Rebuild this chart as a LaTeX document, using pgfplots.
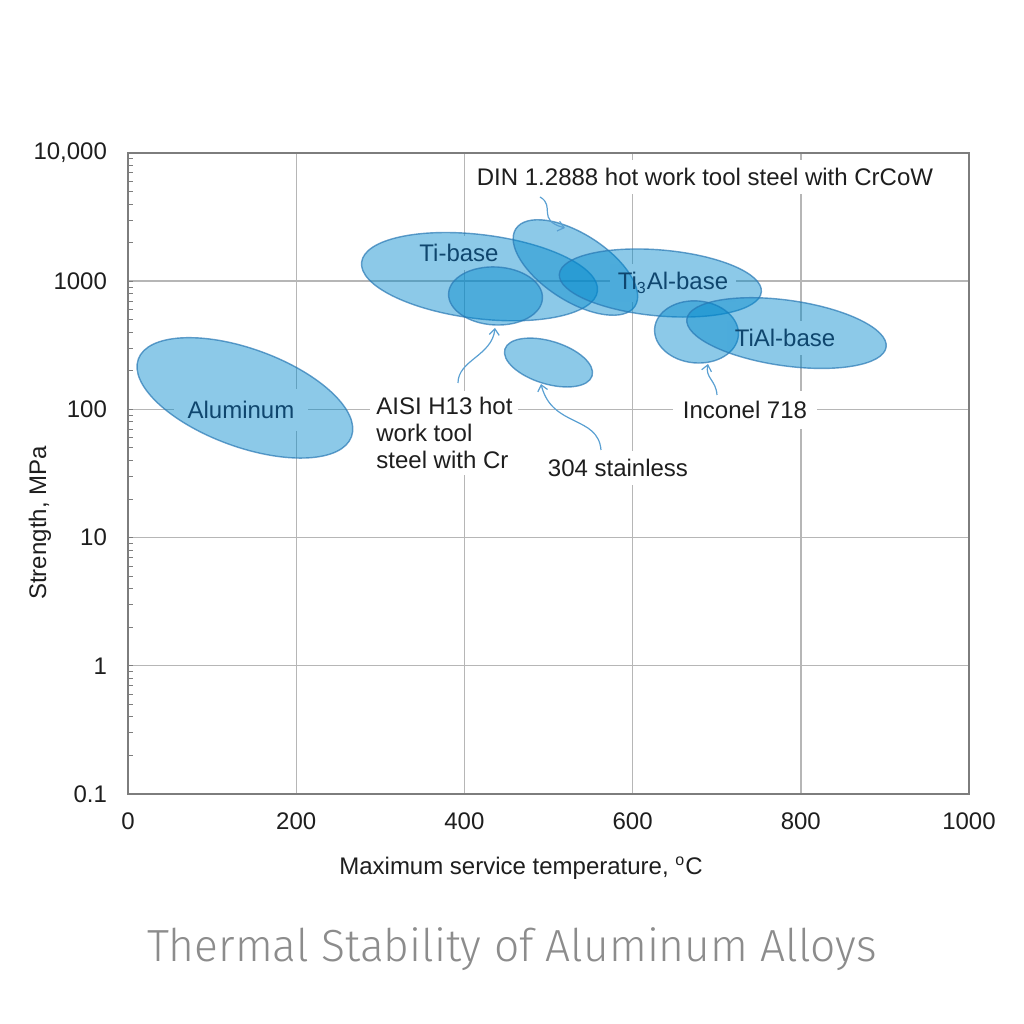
\documentclass[border=0pt]{standalone}
\usepackage{fontspec}
\setmainfont{Liberation Sans}
\newfontfamily\titlefont{Fira Sans}[UprightFont=* Light]
\usepackage{pgfplots}
\pgfplotsset{compat=1.18}
\usetikzlibrary{arrows.meta}

\definecolor{blob}{RGB}{0,136,204}
\definecolor{blobline}{RGB}{40,120,180}
\definecolor{blobtext}{RGB}{15,70,110}
\definecolor{arrowblue}{RGB}{90,160,210}
\definecolor{gridgray}{RGB}{182,182,182}
\definecolor{boxgray}{RGB}{125,125,125}
\definecolor{txt}{RGB}{30,30,30}
\definecolor{titlegray}{RGB}{140,140,140}

\pgfplotsset{samebox/.style={
    scale only axis,
    width=420.5pt, height=320.5pt,
    at={(64pt,115pt)}, anchor=south west,
    xmin=0, xmax=1000, ymin=0.1, ymax=10000}}

% one ellipse = one data point; #2 and #3 are the half axes in pt, #4 the tilt
\newcommand{\blob}[4]{%
  \addplot[only marks, mark=*, mark size=#3pt,
    mark options={rotate=#4, xscale=#2/#3, fill=blob, fill opacity=0.45,
      draw=blobline, draw opacity=0.7, line width=0.7pt}]
    coordinates {#1};}

\begin{document}
\begin{tikzpicture}
\useasboundingbox (0,0) rectangle (512pt,512pt);

% grid, frame and tick labels
\begin{semilogyaxis}[samebox,
    grid=major, major grid style={draw=gridgray, line width=0.7pt},
    axis line style={draw=boxgray, line width=1pt},
    xtick={0,200,...,1000},
    xticklabel style={/pgf/number format/1000 sep={}, yshift=-6pt},
    ytick={0.1,1,10,100,1000,10000},
    yticklabels={0.1,1,10,100,1000,{10,000}},
    tick align=inside, ytick pos=left, xtick pos=bottom,
    major tick length=0pt, minor tick length=2.5pt,
    minor tick style={draw=boxgray, line width=0.5pt},
    /pgf/number format/assume math mode=true,
    ticklabel style={font=\fontsize{12}{14}\selectfont, text=txt},
    yticklabel style={xshift=-7pt},
  ]
\end{semilogyaxis}

% gaps in the grid behind the labels that sit in the blobs
\begin{scope}[x=0.5pt, y=-0.5pt, yshift=512pt,
    every node/.style={font=\fontsize{12}{14}\selectfont, fill=white, text=white}]
  \node[inner xsep=7pt, inner ysep=6pt] at (241,410) {Aluminum};
  \node[inner sep=4pt] at (459,253) {Ti-base};
  \node[inner sep=4pt] at (673,283) {Ti\textsubscript{3}Al-base};
  \node[inner sep=4pt] at (785,338) {TiAl-base};
\end{scope}

% the alloy blobs
\begin{semilogyaxis}[samebox, hide axis]
  \blob{(139,123)}{56.7}{24.5}{-20}   % Aluminum
  \blob{(418,1085)}{59.4}{21}{-7}     % Ti-base
  \blob{(437,767)}{23.5}{14.5}{-3}    % AISI H13
  \blob{(532,1279)}{35.5}{16.7}{-33}  % DIN 1.2888
  \blob{(633,968)}{50.7}{16.5}{-5}    % Ti3Al-base
  \blob{(676,402)}{21}{15.5}{-5}      % Inconel 718
  \blob{(783,394)}{50.3}{16.4}{-8}    % TiAl-base
  \blob{(500,232)}{22.8}{10.7}{-17}   % 304 stainless
\end{semilogyaxis}

\begin{scope}[x=0.5pt, y=-0.5pt, yshift=512pt,
    every node/.style={font=\fontsize{12}{14}\selectfont, text=txt}]
  % names inside the blobs
  \node[text=blobtext] at (241,410) {Aluminum};
  \node[text=blobtext] at (459,253) {Ti-base};
  \node[text=blobtext] at (673,283) {Ti\textsubscript{3}Al-base};
  \node[text=blobtext] at (785,338) {TiAl-base};
  % callouts
  \node[fill=white, inner sep=4pt] at (705,177) {DIN 1.2888 hot work tool steel with CrCoW};
  \node[fill=white, inner sep=3pt, anchor=west, align=left,
        font=\fontsize{12}{13.5}\selectfont] at (370,433)
        {AISI H13 hot\\work tool\\steel with Cr};
  \node[fill=white, inner sep=4pt] at (618,468) {304 stainless};
  \node[fill=white, inner sep=5pt] at (745,410) {Inconel 718};
  \begin{scope}[draw=arrowblue, line width=0.6pt, -{Straight Barb[length=3pt,width=5pt]}]
    \draw (540,197) .. controls (556,206) and (536,220) .. (565,228);
    \draw (458,383) .. controls (458,360) and (492,356) .. (495,328);
    \draw (601,450) .. controls (598,415) and (552,428) .. (541,384);
    \draw (717,395) .. controls (716,380) and (705,378) .. (708,364);
  \end{scope}
  % axis titles
  \node at (521,868) {Maximum service temperature, \textsuperscript{o}C};
  \node[rotate=90] at (40,523) {Strength, MPa};
  \node[font=\titlefont\fontsize{22.5}{26}\selectfont, text=titlegray] at (512,949)
    {\scalebox{0.985}[1]{Thermal Stability of Aluminum Alloys}};
\end{scope}
\end{tikzpicture}
\end{document}
